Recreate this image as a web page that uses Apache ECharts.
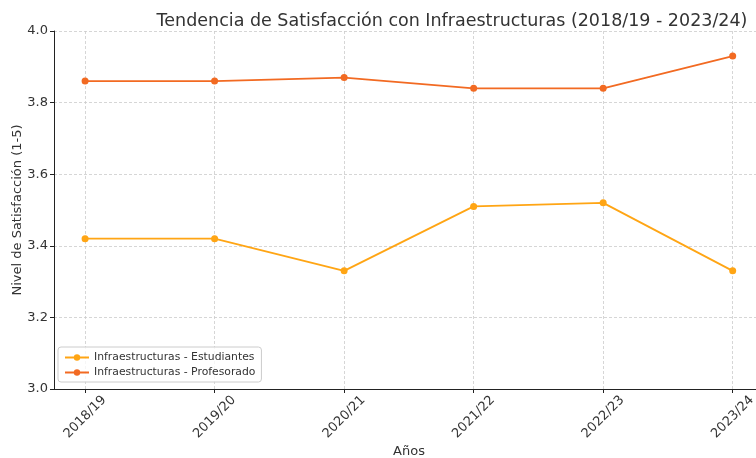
<!DOCTYPE html>
<html>
<head>
<meta charset="utf-8">
<script src="https://cdn.jsdelivr.net/npm/echarts@6/dist/echarts.min.js"></script>
<style>
  html, body { margin: 0; padding: 0; background: #fff; }
  #chart { width: 756px; height: 458px; }
</style>
</head>
<body>
<div id="chart"></div>
<script>
// datos
const years = ['2018/19', '2019/20', '2020/21', '2021/22', '2022/23', '2023/24'];
const estudiantes = [3.42, 3.42, 3.33, 3.51, 3.52, 3.33];
const profesorado = [3.86, 3.86, 3.87, 3.84, 3.84, 3.93];
const yTicks = [3.0, 3.2, 3.4, 3.6, 3.8, 4.0];

const font = 'DejaVu Sans';
const idx = years.map((y, i) => i);

const chart = echarts.init(document.getElementById('chart'));

chart.setOption({
    animation: false,
    textStyle: { fontFamily: font },
    title: {
        text: 'Tendencia de Satisfacción con Infraestructuras (2018/19 - 2023/24)',
        left: 447,
        textAlign: 'center',
        top: 7,
        textStyle: { fontFamily: font, fontSize: 17.5, fontWeight: 'normal', color: '#333' }
    },
    legend: {
        orient: 'vertical',
        left: 58,
        top: 347,
        padding: [5, 6, 4, 6],
        itemGap: 4,
        itemWidth: 24,
        itemHeight: 8,
        backgroundColor: 'rgba(255,255,255,0.8)',
        borderColor: '#ccc',
        borderWidth: 1,
        borderRadius: 3,
        textStyle: { fontFamily: font, fontSize: 10.8, color: '#333' },
        data: ['Infraestructuras - Estudiantes', 'Infraestructuras - Profesorado']
    },
    grid: { left: 54, right: 0, top: 31, bottom: 69, outerBoundsMode: 'none', containLabel: false },
    xAxis: {
        type: 'value',
        min: -0.24,
        max: 5.18,
        name: 'Años',
        nameLocation: 'middle',
        nameGap: 56,
        nameMoveOverlap: false,
        nameTextStyle: { fontFamily: font, fontSize: 13, color: '#333', padding: [0, 0, 0, 8] },
        axisLine: { show: true, onZero: false, lineStyle: { color: '#222', width: 1 } },
        axisTick: { show: true, customValues: idx, length: 4, lineStyle: { color: '#222' } },
        axisLabel: {
            customValues: idx,
            formatter: v => years[Math.round(v)],
            rotate: 45,
            align: 'center',
            verticalAlign: 'middle',
            margin: 28,
            fontFamily: font,
            fontSize: 13,
            color: '#333'
        },
        splitLine: { show: true, lineStyle: { color: '#ccc', type: [3, 2], width: 0.8 } }
    },
    yAxis: {
        type: 'value',
        min: yTicks[0],
        max: yTicks[yTicks.length - 1],
        interval: 0.2,
        name: 'Nivel de Satisfacción (1-5)',
        nameLocation: 'middle',
        nameGap: 30,
        nameMoveOverlap: false,
        nameTextStyle: { fontFamily: font, fontSize: 13, color: '#333' },
        axisLine: { show: true, onZero: false, lineStyle: { color: '#222', width: 1 } },
        axisTick: { show: true, length: 4, lineStyle: { color: '#222' } },
        axisLabel: {
            formatter: v => v.toFixed(1),
            margin: 6,
            fontFamily: font,
            fontSize: 13,
            color: '#333'
        },
        splitLine: { show: true, lineStyle: { color: '#ccc', type: [3, 2], width: 0.8 } }
    },
    series: [
        {
            name: 'Infraestructuras - Estudiantes',
            type: 'line',
            data: estudiantes.map((v, i) => [i, v]),
            color: '#ffa514',
            symbol: 'circle',
            symbolSize: 7,
            lineStyle: { width: 1.8 }
        },
        {
            name: 'Infraestructuras - Profesorado',
            type: 'line',
            data: profesorado.map((v, i) => [i, v]),
            color: '#f26a22',
            symbol: 'circle',
            symbolSize: 7,
            lineStyle: { width: 1.8 }
        }
    ]
});
</script>
</body>
</html>
